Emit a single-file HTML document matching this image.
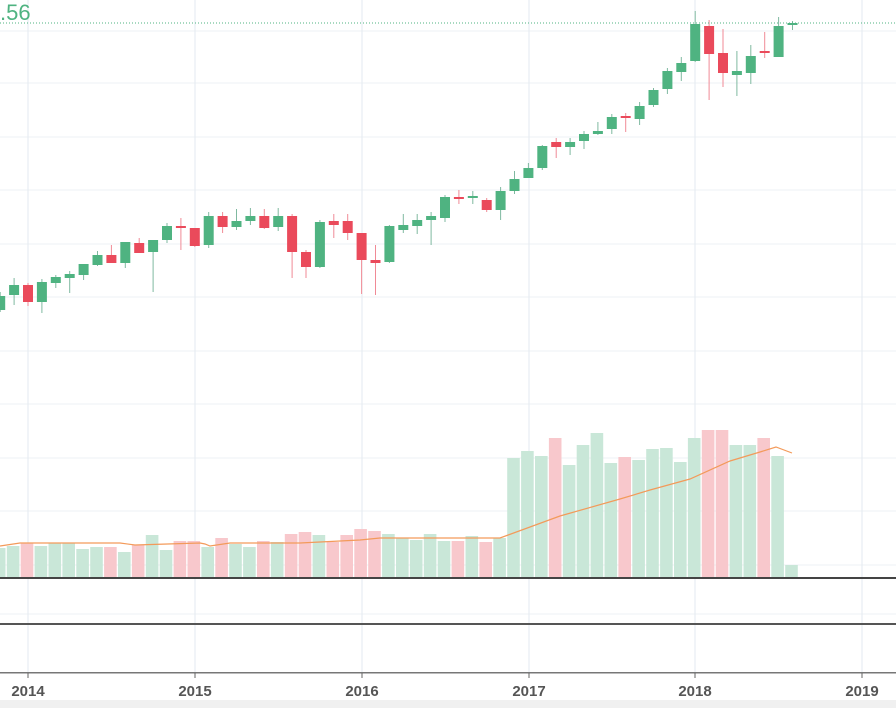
<!DOCTYPE html>
<html><head><meta charset="utf-8"><style>
html,body{margin:0;padding:0;background:#fff;width:896px;height:708px;overflow:hidden}
svg{display:block}
text{font-family:"Liberation Sans",sans-serif}
</style></head><body>
<svg id="c" width="896" height="708" xmlns="http://www.w3.org/2000/svg"></svg>
<script>
const s=document.getElementById('c');let h='';
[31,83,137,190,244,297,351,404,458,511,565,614].forEach(y=>h+=`<line x1="0" x2="896" y1="${y}" y2="${y}" stroke="#eef0f4" stroke-width="1"/>`);
[28,195,362,529,695,862].forEach(x=>h+=`<line x1="${x}" x2="${x}" y1="0" y2="672" stroke="#e3eaf1" stroke-width="1"/>`);
const C=[[-2,1,296,310,292,312],[-1,1,285,295,278,305],[0,0,285,302,283,306],[1,1,282,302,279,313],[2,1,277,283,275,288],[3,1,274,278,271,293],[4,1,264,275,264,280],[5,1,255,265,251,266],[6,0,255,263,245,263],[7,1,242,263,242,268],[8,0,243,253,238,253],[9,1,240,252,240,292],[10,1,226,240,223,243],[11,0,226,228,218,250],[12,0,228,246,228,247],[13,1,216,245,212,248],[14,0,216,227,212,233],[15,1,221,227,209,230],[16,1,216,221,208,225],[17,0,216,228,209,229],[18,1,216,227,208,231],[19,0,216,252,214,278],[20,0,252,267,250,278],[21,1,222,267,220,268],[22,0,221,225,214,238],[23,0,221,233,214,240],[24,0,233,260,233,294],[25,0,260,263,245,295],[26,1,226,262,225,263],[27,1,225,230,214,233],[28,1,220,226,214,234],[29,1,216,220,212,245],[30,1,197,218,195,222],[31,0,197,199,190,204],[32,1,196,198,191,204],[33,0,200,210,198,212],[34,1,191,210,187,220],[35,1,179,191,171,194],[36,1,168,178,163,178],[37,1,146,168,145,170],[38,0,142,147,138,158],[39,1,142,147,138,155],[40,1,134,141,131,149],[41,1,131,134,122,135],[42,1,117,129,114,134],[43,0,116,118,113,132],[44,1,106,119,102,125],[45,1,90,105,88,107],[46,1,71,89,68,94],[47,1,63,72,57,81],[48,1,24,61,11,62],[49,0,26,54,20,100],[50,0,53,73,29,87],[51,1,71,75,51,96],[52,1,56,73,45,84],[53,0,51,53,32,58],[54,1,26,57,17,57],[55,1,23,25,21,30]];
const X=i=>28+13.9*i;
const V=[548,546,543,546,543,543,549,547,547,552,545,535,550,541,541,547,538,544,547,541,542,534,532,535,542,535,529,531,534,538,540,534,541,541,536,542,538,458,451,456,438,465,445,433,463,457,460,449,448,462,438,430,430,445,445,438,456,565];
C.forEach((c,k)=>{const x=X(c[0])-1;h+=`<rect x="${x-6.3}" y="${V[k]}" width="12.6" height="${577-V[k]}" fill="${c[1]?'#c9e7d8':'#f8c8cc'}"/>`;});
h+=`<polyline fill="none" stroke="#f39a5a" stroke-width="1.2" points="0,546 20,543 120,543 135,545 200,543 205,544 210,546 230,543 300,543 360,540 380,538 500,538 560,516 620,499 650,490 690,479 730,461 760,452 776,447 792,453"/>`;
C.forEach(c=>{const x=X(c[0]);const col=c[1]?'#4fb381':'#ea4a5b';
h+=`<line x1="${x}" x2="${x}" y1="${c[4]}" y2="${c[5]}" stroke="${c[1]?'#7fb9a0':'#f08a96'}" stroke-width="1"/>`;
h+=`<rect x="${x-5}" y="${c[2]}" width="10" height="${Math.max(2,c[3]-c[2])}" fill="${col}"/>`;});
h+=`<line x1="0" x2="896" y1="23" y2="23" stroke="#4fb381" stroke-width="1" stroke-dasharray="1,2"/>`;
h+=`<text x="0" y="20" font-size="22" fill="#4fb381">.56</text>`;
h+=`<rect x="0" y="577" width="896" height="2" fill="#444"/><rect x="0" y="623" width="896" height="2" fill="#555"/>`;
h+=`<rect x="0" y="672" width="896" height="1.5" fill="#777"/>`;
h+=`<rect x="0" y="700" width="896" height="8" fill="#f0f0f0"/>`;
[['2014',28],['2015',195],['2016',362],['2017',529],['2018',695],['2019',862]].forEach(([t,x])=>{
h+=`<line x1="${x}" x2="${x}" y1="673" y2="678" stroke="#666"/><text x="${x}" y="696" font-size="15" font-weight="bold" fill="#555" text-anchor="middle">${t}</text>`;});
s.innerHTML=h;
</script>
</body></html>
